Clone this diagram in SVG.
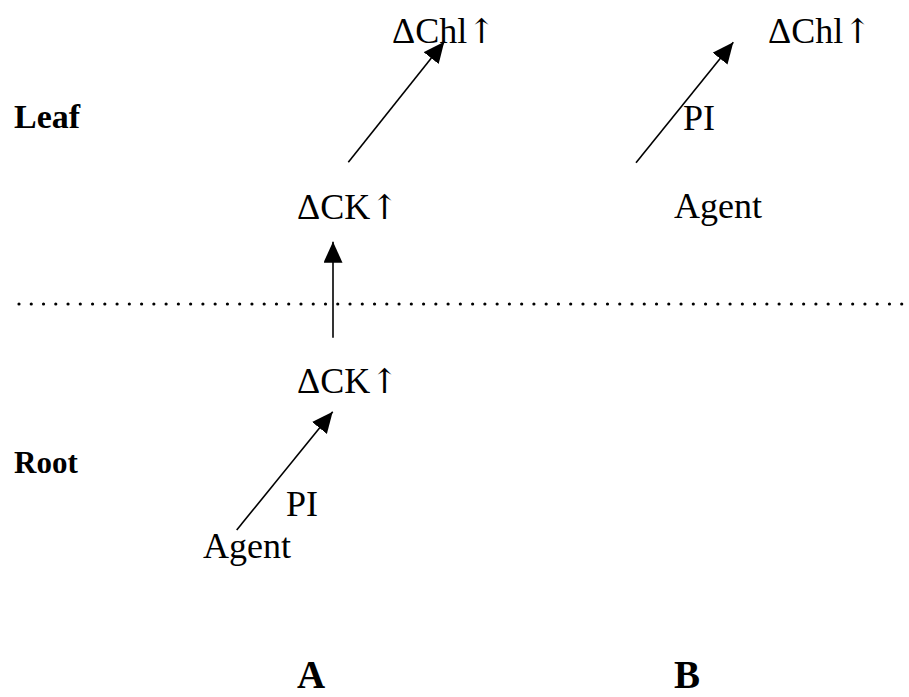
<svg xmlns="http://www.w3.org/2000/svg" width="909" height="697" viewBox="0 0 909 697">
<style>
.t{font-family:"Liberation Serif","DejaVu Serif",serif;font-size:36px;fill:#000}
.b{font-family:"Liberation Serif","DejaVu Serif",serif;font-weight:bold;fill:#000}
.u{font-family:"DejaVu Serif",serif;font-size:34px}
.c{stroke:#000;stroke-width:1.6;fill:none;marker-end:url(#ah)}
</style>
<defs>
<marker id="ah" markerUnits="userSpaceOnUse" markerWidth="22" markerHeight="20" refX="21" refY="9.5" orient="auto">
<path d="M0,0 L21,9.5 L0,19 z" fill="#000"/>
</marker>
</defs>
<rect width="909" height="697" fill="#fff"/>
<line x1="19" y1="304" x2="902" y2="304" stroke="#000" stroke-width="3.2" stroke-linecap="round" stroke-dasharray="0 12.26"/>
<g id="label-leaf"><text class="b" x="14" y="128" font-size="34">Leaf</text></g>
<g id="label-root"><text class="b" x="14" y="473" font-size="31">Root</text></g>
<g id="label-A"><text class="b" x="297" y="688" font-size="39">A</text></g>
<g id="label-B"><text class="b" x="674" y="688" font-size="39">B</text></g>
<g id="node-a-chl"><text class="t" x="392" y="43">ΔChl<tspan class="u">↑</tspan></text></g>
<g id="node-a-ck-leaf"><text class="t" x="297" y="219">ΔCK<tspan class="u">↑</tspan></text></g>
<g id="node-a-ck-root"><text class="t" x="297" y="393">ΔCK<tspan class="u">↑</tspan></text></g>
<g id="node-a-agent"><text class="t" x="203" y="558">Agent</text></g>
<g id="node-b-chl"><text class="t" x="768" y="43">ΔChl<tspan class="u">↑</tspan></text></g>
<g id="node-b-agent"><text class="t" x="674" y="218">Agent</text></g>
<g id="connectors">
<line class="c" x1="348.3" y1="162.3" x2="444.3" y2="41.7"/>
<line class="c" x1="333" y1="337.7" x2="333" y2="241.7"/>
<line class="c" x1="236.7" y1="530" x2="332.7" y2="411.7"/>
<line class="c" x1="636" y1="162.7" x2="733.3" y2="42.3"/>
<text class="t" x="286" y="516">PI</text>
<text class="t" x="683" y="130">PI</text>
</g>
</svg>
